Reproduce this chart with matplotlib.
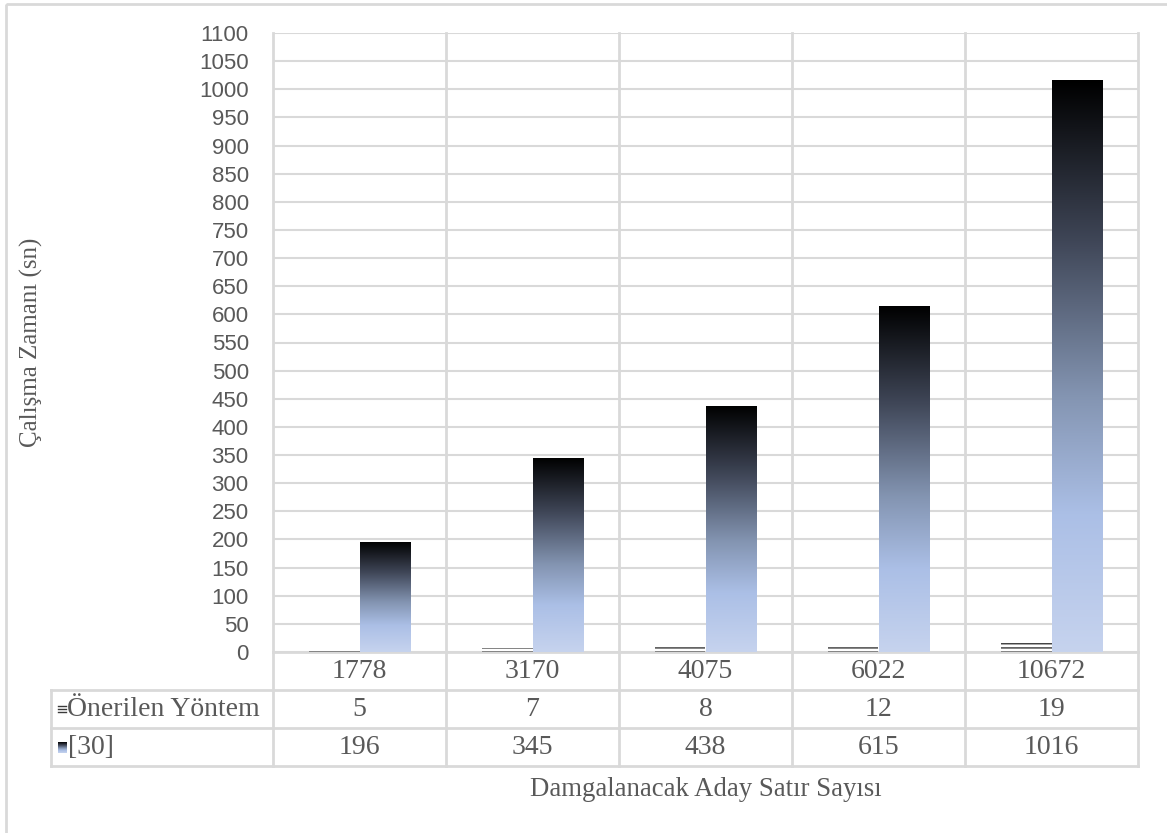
import numpy as np
import matplotlib
matplotlib.use("Agg")
import matplotlib.pyplot as plt
from matplotlib.colors import LinearSegmentedColormap
from matplotlib.patches import Rectangle
from matplotlib.lines import Line2D

# ---- data -------------------------------------------------------------
categories = ["1778", "3170", "4075", "6022", "10672"]
proposed = [5, 7, 8, 12, 19]
ref30 = [196, 345, 438, 615, 1016]
series_names = ["Önerilen Yöntem", "[30]"]
y_ticks = list(range(0, 1101, 50))
y_label = "Çalışma Zamanı (sn)"
x_label = "Damgalanacak Aday Satır Sayısı"

# ---- styling ----------------------------------------------------------
W, H = 1167, 833
GRID = "#D9D9D9"
TXT = "#595959"
SERIF = "Liberation Serif"
SANS = "Liberation Sans"

grad_cmap = LinearSegmentedColormap.from_list(
    "excel_grad",
    [(0.00, "#C6D3EE"), (0.24, "#ABBFE6"), (0.45, "#8394B1"),
     (0.72, "#3F4657"), (1.00, "#000000")])

plt.rcParams["hatch.linewidth"] = 1.0

fig = plt.figure(figsize=(W / 100, H / 100), dpi=100)
fig.patch.set_facecolor("white")

# plot area in pixel terms (top-down)
PL, PR, PT, PB = 273, 1138, 33, 652
ax = fig.add_axes([PL / W, (H - PB) / H, (PR - PL) / W, (PB - PT) / H])
ax.set_zorder(2)
ax.patch.set_visible(False)

n = len(categories)
x = np.arange(n)
bw = 0.29

# proposed method: horizontal line pattern
ax.bar(x - bw / 2, proposed, bw, facecolor="white", edgecolor="#3A3A3A",
       hatch="----", linewidth=0, zorder=3)

# [30]: vertical gradient fill, clipped to each bar
bars = ax.bar(x + bw / 2, ref30, bw, facecolor="none", linewidth=0, zorder=3)
grad = np.linspace(0, 1, 256).reshape(-1, 1)
for b in bars:
    x0, y0 = b.get_x(), b.get_y()
    im = ax.imshow(grad, extent=(x0, x0 + b.get_width(), y0, y0 + b.get_height()),
                   cmap=grad_cmap, origin="lower", aspect="auto", zorder=3,
                   interpolation="bilinear")
    im.set_clip_path(b)

ax.set_xlim(-0.5, n - 0.5)
ax.set_ylim(0, 1100)
ax.set_yticks(y_ticks)
ax.set_xticks([])
ax.yaxis.grid(True, color=GRID, linewidth=1.5, zorder=0)
ax.set_axisbelow(True)
for s in ax.spines.values():
    s.set_visible(False)
ax.tick_params(axis="y", length=0, pad=17.5, labelsize=16, labelcolor=TXT)
for lab in ax.get_yticklabels():
    lab.set_fontfamily(SANS)

# ---- overlay for table, frame and axis titles -------------------------
ov = fig.add_axes([0, 0, 1, 1])
ov.set_zorder(1)
ov.set_xlim(0, W)
ov.set_ylim(H, 0)
ov.axis("off")

fig.canvas.draw()


def col_px(v):
    return ax.transData.transform((v, 0))[0]


bounds = [col_px(i - 0.5) for i in range(n + 1)]
centers = [col_px(i) for i in range(n)]

TL = 51
R1, R2, R3, R4 = PB, 690, 728, 766
LW = 2.0


def hline(y, xa, xb):
    ov.add_line(Line2D([xa, xb], [y, y], color=GRID, lw=LW, zorder=1))


def vline(xp, ya, yb):
    ov.add_line(Line2D([xp, xp], [ya, yb], color=GRID, lw=LW, zorder=1))


# vertical category boundaries through plot and table
for bx in bounds:
    vline(bx, PT, R4)
hline(R1, bounds[0], bounds[-1])
for yy in (R2, R3, R4):
    hline(yy, TL, bounds[-1])
vline(TL, R2, R4)

# outer chart frame
ov.add_patch(Rectangle((6, 4), W, H, fill=False, edgecolor=GRID, lw=2, zorder=1))

FS = 20
rows = [(R1 + R2) / 2, (R2 + R3) / 2, (R3 + R4) / 2]
for cx, c in zip(centers, categories):
    ov.text(cx, rows[0] + 1, c, ha="center", va="center", fontsize=FS,
            family=SERIF, color=TXT)
for cx, v in zip(centers, proposed):
    ov.text(cx, rows[1] + 1, str(v), ha="center", va="center", fontsize=FS,
            family=SERIF, color=TXT)
for cx, v in zip(centers, ref30):
    ov.text(cx, rows[2] + 1, str(v), ha="center", va="center", fontsize=FS,
            family=SERIF, color=TXT)

# legend keys inside the table header
for ky in (-3.5, -0.5, 2.5):
    ov.add_line(Line2D([58, 66], [rows[1] + ky] * 2, color="#3A3A3A", lw=1.0,
                       zorder=2))
key = ov.imshow(grad[::-1], extent=(58, 67, rows[2] + 6, rows[2] - 5),
                cmap=grad_cmap, aspect="auto", zorder=2, interpolation="bilinear")
ov.set_xlim(0, W)
ov.set_ylim(H, 0)
ov.text(67, rows[1] + 1, series_names[0], ha="left", va="center", fontsize=FS,
        family=SERIF, color=TXT)
ov.text(68, rows[2] + 1, series_names[1], ha="left", va="center", fontsize=FS,
        family=SERIF, color=TXT)

# axis titles
ov.text((PL + PR) / 2, 789, x_label, ha="center", va="center", fontsize=19.25,
        family=SERIF, color=TXT)
ov.text(31, (PT + PB) / 2, y_label, ha="center", va="center", rotation=90,
        fontsize=18, family=SERIF, color=TXT)

fig.savefig("out.png", dpi=100)
